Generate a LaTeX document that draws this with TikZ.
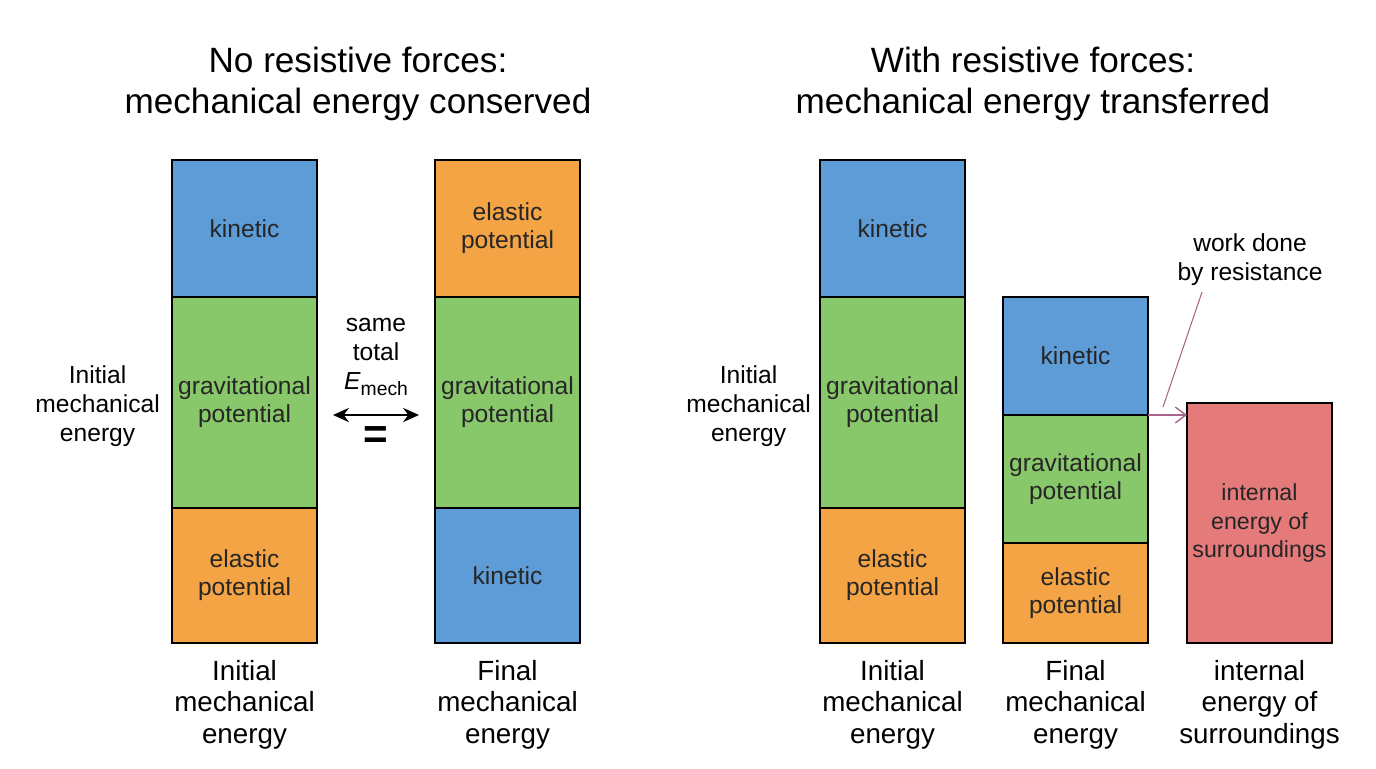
\documentclass[tikz,border=0pt]{standalone}
\usepackage{fontspec}
\setmainfont{Liberation Sans}
\usetikzlibrary{positioning, arrows.meta}

\definecolor{kinblue}{HTML}{5E9CD8}
\definecolor{gravgreen}{HTML}{88C76A}
\definecolor{elorange}{HTML}{F4A444}
\definecolor{surfred}{HTML}{E47A7A}
\definecolor{workpink}{HTML}{A8658C}

\begin{document}
\begin{tikzpicture}[x=0.02cm, y=-0.02cm,
		seg/.style={draw, line width=1.5pt, outer sep=0pt, minimum width=2.9cm,
			align=center, text=black!85, font=\fontsize{14}{16}\selectfont},
		toplabel/.style={align=center, font=\fontsize{20}{23.3}\selectfont},
		barlabel/.style={align=center, font=\fontsize{15.8}{18}\selectfont},
		sidelabel/.style={align=center, font=\fontsize{14}{16.5}\selectfont}]
	\useasboundingbox (0,0) rectangle (1376,768);
	% titles
	\node[toplabel] (t1) at (358,84) {No resistive forces:\\mechanical energy conserved};
	\node[toplabel] (t2) at (1033,84) {With resistive forces:\\mechanical energy transferred};
	% left: initial and final bars
	\node[seg, fill=kinblue, minimum height=2.74cm] (k1) at (244.5,228.5) {kinetic};
	\node[seg, fill=gravgreen, minimum height=4.22cm, below=0pt of k1] (g1) {gravitational\\potential};
	\node[seg, fill=elorange, minimum height=2.7cm, below=0pt of g1] (e1) {elastic\\potential};
	\node[seg, fill=elorange, minimum height=2.74cm] (e2) at (507.5,228.5) {elastic\\potential};
	\node[seg, fill=gravgreen, minimum height=4.22cm, below=0pt of e2] (g2) {gravitational\\potential};
	\node[seg, fill=kinblue, minimum height=2.7cm, below=0pt of g2] (k2) {kinetic};
	\node[sidelabel, left=0.12cm of g1, yshift=-0.08cm] (i1) {Initial\\mechanical\\energy};
	\node[barlabel, below=0.22cm of e1] (b1) {Initial\\mechanical\\energy};
	\node[barlabel, below=0.22cm of k2] (b2) {Final\\mechanical\\energy};
	\node[sidelabel] (same) at (376,357) {same\\total\\\textit{E}\raisebox{-0.45ex}{\fontsize{11}{12}\selectfont mech}};
	\coordinate (al) at (333,415);
	\coordinate (ar) at (419,415);
	\draw[{Stealth[length=9pt,width=8pt]}-{Stealth[length=9pt,width=8pt]}, line width=1.3pt] (al) -- (ar);
	\node[font=\fontsize{24}{26}\selectfont\bfseries] (eq) at (376,438) {=};
	% right: with resistance
	\node[seg, fill=kinblue, minimum height=2.74cm] (k3) at (892.5,228.5) {kinetic};
	\node[seg, fill=gravgreen, minimum height=4.22cm, below=0pt of k3] (g3) {gravitational\\potential};
	\node[seg, fill=elorange, minimum height=2.7cm, below=0pt of g3] (e3) {elastic\\potential};
	\node[seg, fill=kinblue, minimum height=2.36cm] (k4) at (1075.5,356) {kinetic};
	\node[seg, fill=gravgreen, minimum height=2.56cm, below=0pt of k4] (g4) {gravitational\\potential};
	\node[seg, fill=elorange, minimum height=2.0cm, below=0pt of g4] (e4) {elastic\\potential};
	\node[seg, fill=surfred, minimum height=4.8cm, inner xsep=1pt, font=\fontsize{13.2}{16}\selectfont] (s) at (1259.5,523) {internal\\energy of\\surroundings};
	\node[sidelabel, left=0.06cm of g3, yshift=-0.08cm] (i3) {Initial\\mechanical\\energy};
	\node[barlabel, below=0.22cm of e3] (b3) {Initial\\mechanical\\energy};
	\node[barlabel, below=0.22cm of e4] (b4) {Final\\mechanical\\energy};
	\node[barlabel, below=0.22cm of s] (b5) {internal\\energy of\\surroundings};
	\node[sidelabel] (wd) at (1250,260) {work done\\by resistance};
	\coordinate (wdtop) at (1202,292);
	\coordinate (wdend) at (1163,407);
	\draw[workpink, line width=0.6pt] (wdtop) -- (wdend);
	\draw[workpink, line width=0.8pt, -{Straight Barb[length=6pt,width=9pt]}] (k4.south east) -- (k4.south east -| s.west);
\end{tikzpicture}
\end{document}
